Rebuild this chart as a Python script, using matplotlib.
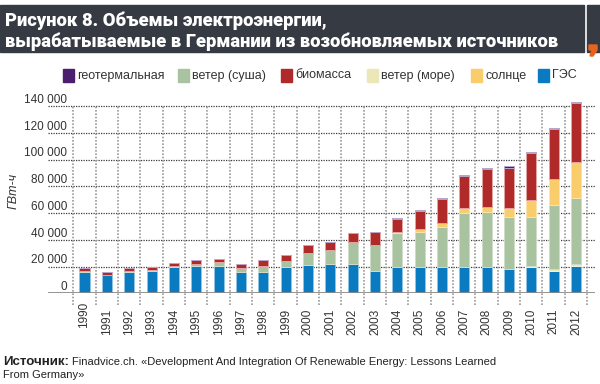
import matplotlib.pyplot as plt
import numpy as np
from matplotlib.patches import Rectangle, Polygon
from matplotlib.transforms import blended_transform_factory, ScaledTranslation

plt.rcParams['font.family'] = ['Liberation Sans', 'DejaVu Sans']

years = [str(y) for y in range(1990, 2013)]

# GWh
hydro = [16100, 13450, 16100, 16700, 19650, 20650, 20650, 16100, 16100, 19400, 20900, 21900,
         21900, 16900, 19400, 19400, 19400, 19900, 19400, 18200, 19900, 16900, 20600]
wind_offshore = [0, 0, 0, 0, 0, 0, 0, 0, 0, 0, 0, 0,
                 0, 0, 0, 0, 0, 0, 0, 100, 200, 1200, 1400]
wind_onshore = [200, 300, 400, 900, 900, 1250, 2750, 3000, 4500, 5000, 9450, 10700,
                16200, 19000, 25900, 26600, 30400, 39900, 41100, 38700, 37150, 47900, 49000]
solar = [0, 0, 0, 0, 0, 0, 0, 0, 0, 0, 100, 100,
         200, 300, 500, 1800, 2500, 3700, 3800, 6750, 12450, 19400, 26900]
biomass = [2400, 2350, 2400, 2300, 1850, 3000, 2500, 3000, 4300, 4200, 5450, 5900,
           6500, 9400, 9700, 13900, 18400, 24200, 28600, 30150, 34900, 37400, 44100]
geothermal = [0, 0, 0, 0, 0, 0, 0, 0, 0, 0, 0, 0,
              0, 0, 800, 800, 800, 800, 700, 900, 800, 700, 900]

series = [
    ('ГЭС', hydro, '#0a7bc0', '#8fc3e4'),
    ('ветер (море)', wind_offshore, '#ece7b8', '#f4f1d8'),
    ('ветер (суша)', wind_onshore, '#a9c3a0', '#cfdcc9'),
    ('солнце', solar, '#f9cd6b', '#fbe3ad'),
    ('биомасса', biomass, '#b02a2a', '#e2a3a3'),
    ('геотермальная', geothermal, '#4a1f6e', '#b9a6cc'),
]
legend_order = ['геотермальная', 'ветер (суша)', 'биомасса', 'ветер (море)', 'солнце', 'ГЭС']
legend_x = [63, 178, 281, 367, 471, 538]

W, H = 600, 384
fig = plt.figure(figsize=(6, 3.84), dpi=100)


def fx(x):
    return x / W


def fy(y):
    return 1 - y / H


# title banner
fig.patches.append(Rectangle((0, fy(52)), fx(584), fy(5) - fy(52), transform=fig.transFigure,
                             color='#363a43', zorder=0))
fig.patches.append(Rectangle((fx(587), fy(52)), fx(13), fy(5) - fy(52), transform=fig.transFigure,
                             color='#363a43', zorder=0))
comma = [(589, 45), (597, 45), (597, 50), (593, 56), (590, 56), (592, 50), (589, 50)]
fig.patches.append(Polygon([(fx(a), fy(b)) for a, b in comma], closed=True,
                           transform=fig.transFigure, color='#e8641e', zorder=1))
title_font = dict(family=['Roboto', 'Liberation Sans', 'DejaVu Sans'], fontweight='heavy',
                  fontsize=13.2, color='white', va='baseline')
fig.text(fx(5), fy(26.5), 'Рисунок 8. Объемы электроэнергии,', **title_font)
fig.text(fx(5), fy(47), 'вырабатываемые в Германии из возобновляемых источников', **title_font)

# legend
colors = {name: c for name, _, c, _ in series}
for name, x0 in zip(legend_order, legend_x):
    fig.patches.append(Rectangle((fx(x0), fy(81.5)), fx(11), fy(69) - fy(81.5),
                                 transform=fig.transFigure, color=colors[name]))
    fig.text(fx(x0 + 14), fy(75.5), name, fontsize=9, color='#333333', va='center')

# plot area
ax = fig.add_axes([fx(48), fy(293.3), fx(547), 194 / H])
ax.set_xlim(-1.634, 22.85)
ax.set_ylim(0, 145000)
for s in ax.spines.values():
    s.set_visible(False)

x = np.arange(len(years))
bottom = np.zeros(len(years))
for name, vals, c, ec in series:
    vals = np.array(vals, dtype=float)
    ax.bar(x, vals, 0.45, bottom=bottom, color=c, edgecolor=ec, linewidth=0.7, zorder=3)
    bottom += vals

# grid
for v in range(20000, 140001, 20000):
    ax.axhline(v, color='#3a3a3a', lw=0.9, linestyle=(0, (1, 1)), zorder=1)
ax.vlines(np.arange(-0.5, 23, 1), -9000, 140000, colors='#9a9a9a', lw=1.2,
          linestyles=(0, (1, 1)), zorder=1, clip_on=False)
ax.axhline(0, color='#8a8a8a', lw=2, zorder=4)

# y labels sit above their gridlines
trans = blended_transform_factory(ax.transAxes, ax.transData)
ax.set_yticks([])
for v in range(0, 140001, 20000):
    lab = f'{v:,}'.replace(',', ' ')
    ax.text(0.0347, v + 2300, lab, transform=trans, ha='right', va='baseline',
            fontsize=8.5, color='#333333')

ax.set_xticks(x)
ax.set_xticklabels(years, rotation=90, fontsize=8.5, color='#333333', va='top')
ax.tick_params(axis='x', length=0, pad=11)
# first label sits a bit higher in the original
first = ax.get_xticklabels()[0]
first.set_transform(first.get_transform() + ScaledTranslation(0, 7 / 100, fig.dpi_scale_trans))

fig.text(fx(14), fy(191), 'ГВт-ч', rotation=90, fontsize=9, style='italic',
         color='#333333', ha='center', va='center')

# source
fig.text(fx(3), fy(365), 'Источник:', fontsize=9.6, fontweight='bold', color='#222222', va='baseline')
fig.text(fx(72.5), fy(365), 'Finadvice.ch. «Development And Integration Of Renewable Energy: Lessons Learned',
         fontsize=8.0, color='#222222', va='baseline')
fig.text(fx(3), fy(378), 'From Germany»', fontsize=8.0, color='#222222', va='baseline')

fig.savefig('out.png', dpi=100)
